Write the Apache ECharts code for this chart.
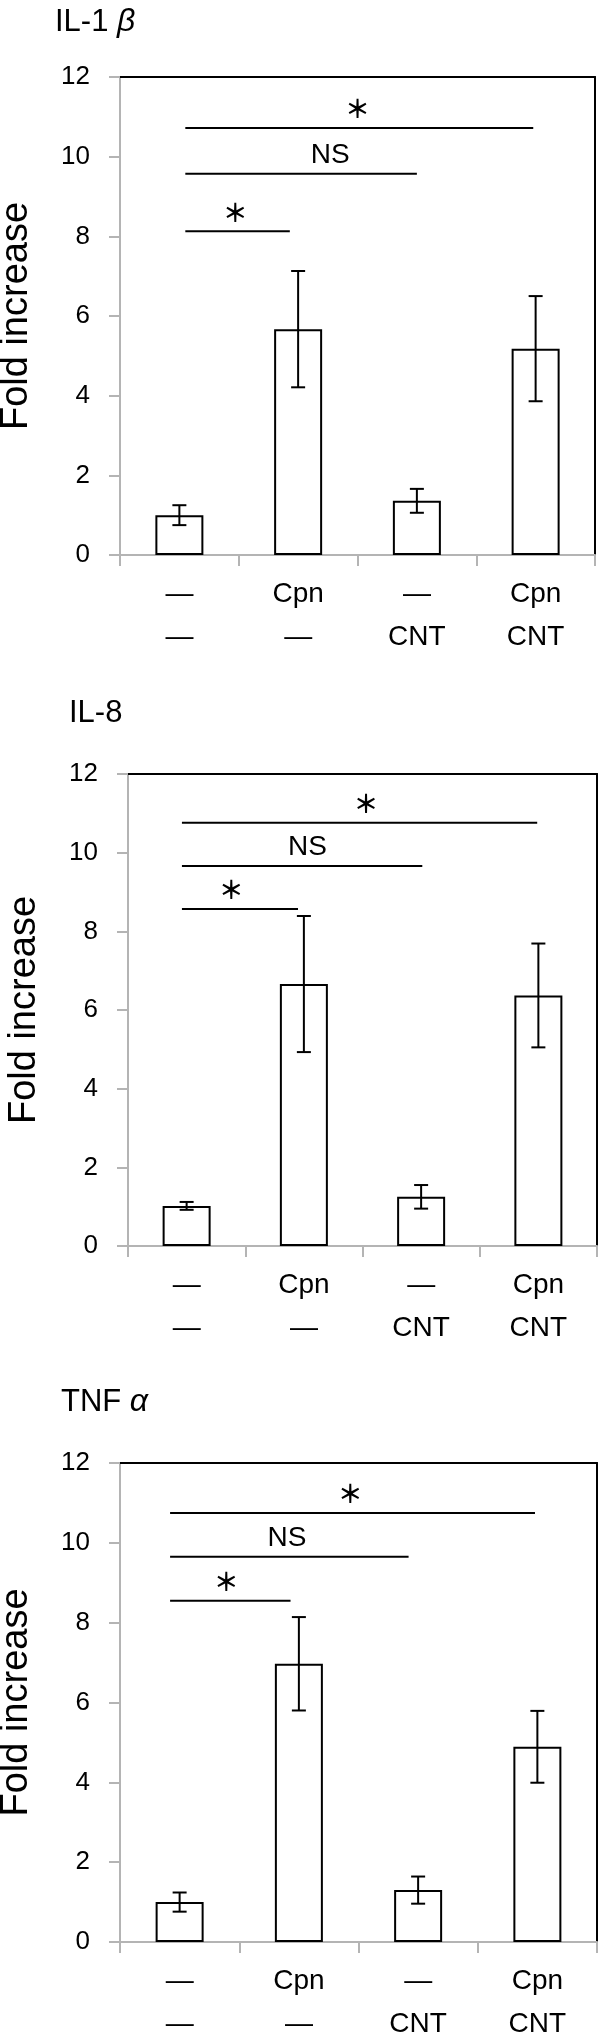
<!DOCTYPE html>
<html>
<head>
<meta charset="utf-8">
<script src="https://cdn.jsdelivr.net/npm/echarts@6/dist/echarts.min.js"></script>
<style>
html,body{margin:0;padding:0;background:#fff;}
#chart{width:600px;height:2039px;}
</style>
</head>
<body>
<div id="chart"></div>
<script>
// ---- data ----
const cpnRow = ['—', 'Cpn', '—', 'Cpn'];
const cntRow = ['—', '—', 'CNT', 'CNT'];
const yTicks = [0, 2, 4, 6, 8, 10, 12];

const il1bMean = [1.0, 5.67, 1.36, 5.18];
const il1bErr  = [0.25, 1.46, 0.30, 1.32];
const il8Mean  = [1.02, 6.66, 1.25, 6.37];
const il8Err   = [0.10, 1.73, 0.30, 1.32];
const tnfMean  = [1.0, 6.97, 1.30, 4.89];
const tnfErr   = [0.24, 1.17, 0.34, 0.90];

// significance brackets: [from (category units), to, y value, label, label x]
const il1bBrackets = [[0.05, 2.98, 10.72, '*', 1.50], [0.05, 2.00, 9.57, 'NS', 1.27], [0.05, 0.93, 8.13, '*', 0.47]];
const il8Brackets  = [[-0.04, 2.99, 10.76, '*', 1.53], [-0.04, 2.01, 9.66, 'NS', 1.03], [-0.04, 0.95, 8.57, '*', 0.38]];
const tnfBrackets  = [[-0.08, 2.98, 10.75, '*', 1.43], [-0.08, 1.92, 9.65, 'NS', 0.90], [-0.08, 0.93, 8.55, '*', 0.39]];

const titles = [['IL-1 ', 'β'], ['IL-8', ''], ['TNF ', 'α']];
const yName = 'Fold increase';

// ---- layout ----
const FONT = '"Liberation Sans", Arial, sans-serif';
const STAR_FONT = '"Noto Sans CJK JP", "Liberation Sans", sans-serif';
const grids = [
  {left: 120, top: 77, width: 475, height: 478},
  {left: 128, top: 774, width: 469, height: 472},
  {left: 120, top: 1463, width: 477, height: 479}
];
const titlePos = [{left: 55, top: 6}, {left: 69, top: 697}, {left: 61, top: 1386}];
const AXIS_GREY = '#b4b4b4';

const categories = cpnRow.map((c, i) => c + '\n' + cntRow[i]);
const panels = [
  {mean: il1bMean, err: il1bErr, br: il1bBrackets},
  {mean: il8Mean, err: il8Err, br: il8Brackets},
  {mean: tnfMean, err: tnfErr, br: tnfBrackets}
];

const option = {
  animation: false,
  backgroundColor: '#fff',
  title: titles.map((t, i) => ({
    text: t[0] + (t[1] ? '{g|' + t[1] + '}' : ''),
    left: titlePos[i].left, top: titlePos[i].top, padding: 0,
    textStyle: {
      fontFamily: FONT, fontSize: 31, fontWeight: 'normal', color: '#000', lineHeight: 32,
      rich: {g: {fontFamily: FONT, fontSize: 32, fontStyle: 'italic', color: '#000', lineHeight: 32}}
    }
  })),
  grid: grids.map(g => Object.assign({containLabel: false, outerBoundsMode: 'none'}, g)),
  xAxis: [],
  yAxis: [],
  series: []
};

panels.forEach((p, i) => {
  // bottom category axis
  option.xAxis.push({
    type: 'category', gridIndex: i, data: categories, position: 'bottom',
    axisLine: {onZero: false, lineStyle: {color: AXIS_GREY, width: 2}},
    axisTick: {show: true, length: 11, lineStyle: {color: AXIS_GREY, width: 2}},
    axisLabel: {fontFamily: FONT, fontSize: 28, color: '#000', lineHeight: 43, margin: 18, interval: 0}
  });
  // top frame line
  option.xAxis.push({
    type: 'category', gridIndex: i, data: categories, position: 'top',
    axisLine: {show: true, onZero: false, lineStyle: {color: '#000', width: 2}},
    axisTick: {show: false}, axisLabel: {show: false}
  });
  option.yAxis.push({
    type: 'value', gridIndex: i, min: yTicks[0], max: yTicks[yTicks.length - 1], interval: 2,
    name: yName, nameLocation: 'middle', nameGap: 84, nameRotate: 90,
    nameTextStyle: {fontFamily: FONT, fontSize: 38, color: '#000'},
    axisLine: {show: true, onZero: false, lineStyle: {color: AXIS_GREY, width: 2}},
    axisTick: {show: true, length: 11, lineStyle: {color: AXIS_GREY, width: 2}},
    axisLabel: {fontFamily: FONT, fontSize: 26, color: '#000', margin: 30},
    splitLine: {show: false}
  });
  option.yAxis.push({
    type: 'value', gridIndex: i, min: yTicks[0], max: yTicks[yTicks.length - 1], interval: 2, position: 'right',
    axisLine: {show: true, onZero: false, lineStyle: {color: '#000', width: 2}},
    axisTick: {show: false}, axisLabel: {show: false}, splitLine: {show: false}
  });
  const xi = i * 2, yi = i * 2;
  option.series.push({
    type: 'bar', xAxisIndex: xi, yAxisIndex: yi, data: p.mean, barWidth: 48,
    itemStyle: {color: '#fff', borderColor: '#000', borderWidth: 2}, z: 2
  });
  option.series.push({
    type: 'custom', xAxisIndex: xi, yAxisIndex: yi, z: 3,
    data: p.mean.map((m, k) => [k, m - p.err[k], m + p.err[k]]),
    renderItem: function (params, api) {
      const lo = api.coord([api.value(0), api.value(1)]);
      const hi = api.coord([api.value(0), api.value(2)]);
      const hw = 7;
      const st = {stroke: '#000', lineWidth: 2};
      return {type: 'group', children: [
        {type: 'line', shape: {x1: lo[0], y1: lo[1], x2: hi[0], y2: hi[1]}, style: st},
        {type: 'line', shape: {x1: lo[0] - hw, y1: lo[1], x2: lo[0] + hw, y2: lo[1]}, style: st},
        {type: 'line', shape: {x1: hi[0] - hw, y1: hi[1], x2: hi[0] + hw, y2: hi[1]}, style: st}
      ]};
    }
  });
  option.series.push({
    type: 'custom', xAxisIndex: xi, yAxisIndex: yi, z: 4,
    data: p.br.map(b => [b[0], b[1], b[2], b[4]]),
    renderItem: function (params, api) {
      const b = p.br[params.dataIndex];
      const base = api.coord([0, b[2]]);
      const band = api.size([1, 0])[0];
      const x1 = base[0] + b[0] * band;
      const x2 = base[0] + b[1] * band;
      const lx = base[0] + b[4] * band;
      const isStar = b[3] === '*';
      return {type: 'group', children: [
        {type: 'line', shape: {x1: x1, y1: base[1], x2: x2, y2: base[1]}, style: {stroke: '#000', lineWidth: 2}},
        {type: 'text', style: {
          text: isStar ? '＊' : b[3], x: lx, y: base[1] - 19,
          align: 'center', verticalAlign: 'middle', fill: '#000',
          font: isStar ? 'bold 25px ' + STAR_FONT : '28px ' + FONT
        }}
      ]};
    }
  });
});

const chart = echarts.init(document.getElementById('chart'), null, {renderer: 'canvas'});
chart.setOption(option);
</script>
</body>
</html>
